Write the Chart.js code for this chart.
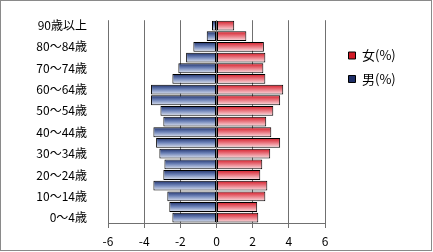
<!DOCTYPE html>
<html>
<head>
<meta charset="utf-8">
<script src="https://cdn.jsdelivr.net/npm/chart.js@4/dist/chart.umd.min.js"></script>
<style>
  html, body { margin: 0; padding: 0; background: #fff; }
  #wrap { position: relative; width: 433px; height: 252px; }
  #frame { position: absolute; left: 0; top: 0; width: 432px; height: 251px; box-sizing: border-box; border: 1px solid #8a8a8a; pointer-events: none; }
</style>
</head>
<body>
<div id="wrap">
  <canvas id="c" width="433" height="252"></canvas>
  <div id="frame"></div>
</div>
<script>
// Categories (bottom to top)
const categories = ['0～4歳','5～9歳','10～14歳','15～19歳','20～24歳','25～29歳','30～34歳','35～39歳','40～44歳','45～49歳','50～54歳','55～59歳','60～64歳','65～69歳','70～74歳','75～79歳','80～84歳','85～89歳','90歳以上'];
// Series values (%)
const femaleValues = [2.31, 2.25, 2.70, 2.81, 2.42, 2.53, 2.97, 3.52, 3.03, 2.75, 3.14, 3.52, 3.69, 2.70, 2.59, 2.70, 2.62, 1.65, 0.98];
const maleValues = [-2.44, -2.61, -2.72, -3.49, -2.94, -2.88, -3.16, -3.34, -3.49, -2.94, -3.10, -3.62, -3.62, -2.44, -2.11, -1.68, -1.28, -0.54, -0.25];
const seriesNames = ['女(%)', '男(%)'];
// Axis tick settings
const xMin = -6, xMax = 6, xStep = 2;

const BAR_PCT = 0.92;
const FONT = "'Noto Sans CJK JP', 'Noto Sans', sans-serif";

function gradientFill(stops, solid) {
  return function (ctx) {
    const chart = ctx.chart;
    const y = chart.scales && chart.scales.y;
    if (ctx.type !== 'data' || !y || !chart.chartArea) return solid;
    const center = y.getPixelForValue(ctx.index);
    const h = (chart.chartArea.bottom - chart.chartArea.top) / categories.length * BAR_PCT;
    const g = chart.ctx.createLinearGradient(0, center - h / 2, 0, center + h / 2);
    stops.forEach(s => g.addColorStop(s[0], s[1]));
    return g;
  };
}

const redStops = [[0, '#d21a26'], [0.45, '#e8707a'], [1, '#fbe3e6']];
const blueStops = [[0, '#1e2f68'], [0.45, '#6a80b6'], [1, '#e2e7f2']];

const layoutPlugin = {
  id: 'layoutFix',
  beforeInit(chart) {
    const lg = chart.legend;
    if (lg) {
      const origFit = lg.fit;
      lg.fit = function () { origFit.call(this); this.width = 108; };
    }
  },
  afterLayout(chart) {
    const lg = chart.legend;
    if (lg) {
      const w = lg.right - lg.left;
      lg.left = 338; lg.right = 338 + w;
      const h = lg.bottom - lg.top;
      lg.top = 38.5; lg.bottom = 38.5 + h;
    }
  }
};

new Chart(document.getElementById('c'), {
  type: 'bar',
  data: {
    labels: categories,
    datasets: [
      {
        label: seriesNames[0],
        data: femaleValues,
        backgroundColor: gradientFill(redStops, '#e0646e'),
        borderColor: '#000',
        borderWidth: 1,
        borderSkipped: false,
        barPercentage: BAR_PCT,
        categoryPercentage: 1
      },
      {
        label: seriesNames[1],
        data: maleValues,
        backgroundColor: gradientFill(blueStops, '#5a6e9e'),
        borderColor: '#000',
        borderWidth: 1,
        borderSkipped: false,
        barPercentage: BAR_PCT,
        categoryPercentage: 1
      }
    ]
  },
  options: {
    indexAxis: 'y',
    responsive: false,
    animation: false,
    events: [],
    layout: { padding: { top: 16, left: 0, right: 0, bottom: 0 } },
    scales: {
      x: {
        type: 'linear',
        stacked: true,
        min: xMin, max: xMax,
        ticks: { stepSize: xStep, color: '#000', font: { family: FONT, size: 12 }, padding: 6 },
        grid: { display: true, drawOnChartArea: true, color: '#707070', lineWidth: 1, tickLength: 5, drawTicks: true },
        border: { display: true, color: '#707070' },
        afterFit(scale) { scale.height = 29; }
      },
      y: {
        stacked: true,
        reverse: true,
        grid: { display: false },
        border: { display: false },
        ticks: {
          autoSkip: false,
          color: '#000',
          font: { family: FONT, size: 12 },
          padding: 13,
          callback(value, index) { return index % 2 === 0 ? categories[index] : ''; }
        },
        afterFit(scale) { scale.width = 108; }
      }
    },
    plugins: {
      tooltip: { enabled: false },
      legend: {
        display: true,
        position: 'right',
        align: 'start',
        labels: {
          boxWidth: 7, boxHeight: 7,
          padding: 10.5,
          color: '#000',
          font: { family: FONT, size: 13 }
        }
      }
    }
  },
  plugins: [layoutPlugin]
});
</script>
</body>
</html>
